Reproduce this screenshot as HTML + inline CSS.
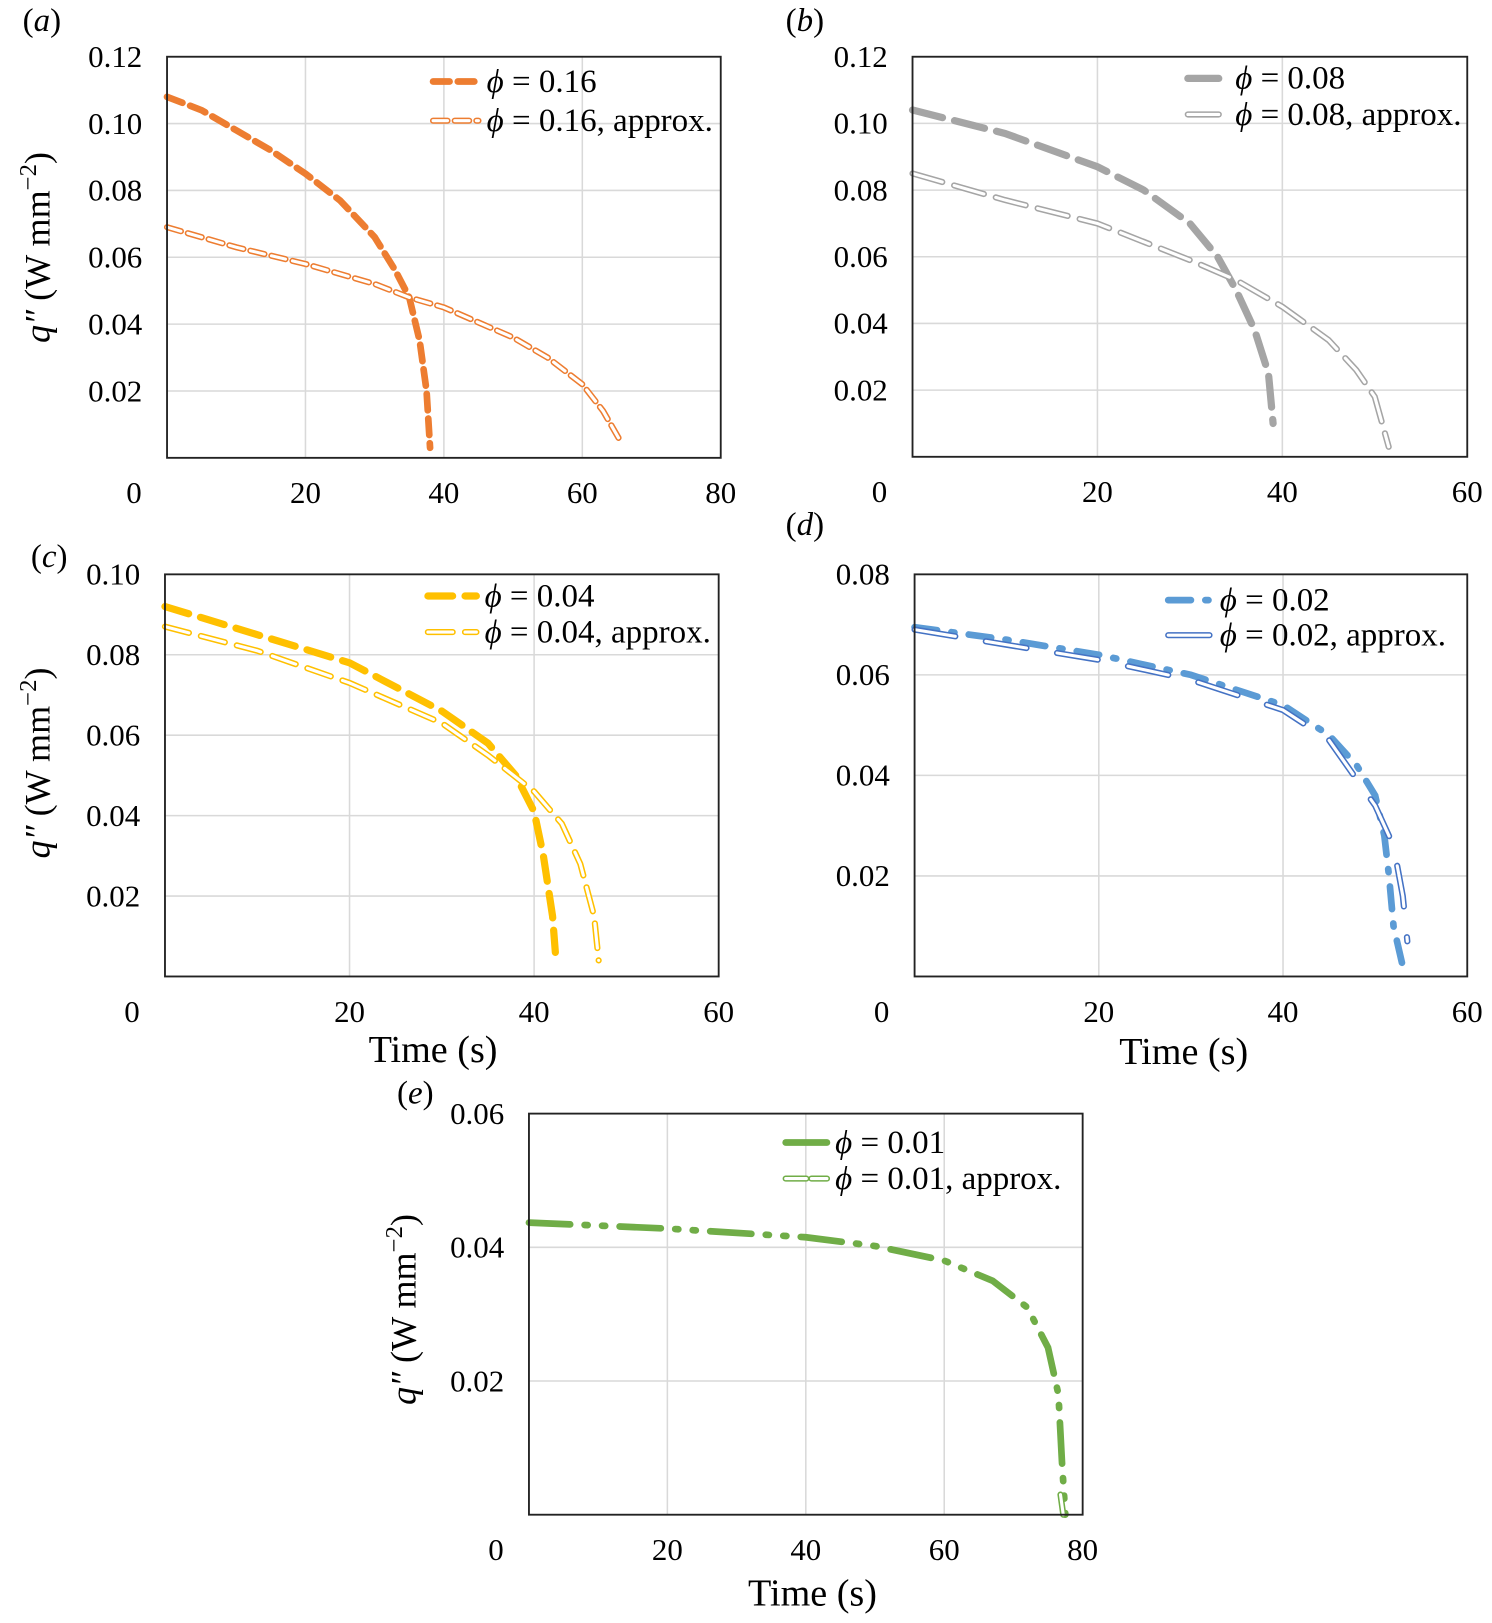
<!DOCTYPE html>
<html><head><meta charset="utf-8"><style>
html,body{margin:0;padding:0;background:#fff;}
svg{display:block;}
text{font-family:"Liberation Serif",serif;fill:#000;}
</style></head><body>
<svg id="fig" width="1492" height="1623" viewBox="0 0 1447 1574"></svg>
<script>
// ---- data ----
const aMainX=[0,5,10,15,20,25,30,33,35,36.5,37.5,38];
const aMainY=[0.108,0.104,0.098,0.092,0.085,0.077,0.066,0.056,0.048,0.035,0.02,0.003];
const aApxX=[0,10,20,30,35,40,50,55,60,63,65.5];
const aApxY=[0.069,0.063,0.058,0.052,0.048,0.045,0.036,0.030,0.022,0.014,0.005];
const bMainX=[0,10,20,25,30,33,35,37,38.5,39];
const bMainY=[0.104,0.097,0.087,0.080,0.070,0.060,0.050,0.038,0.025,0.010];
const bApxX=[0,10,20,30,35,40,45,48,50,51.5];
const bApxY=[0.085,0.077,0.070,0.059,0.053,0.045,0.035,0.026,0.018,0.003];
const cMainX=[0,10,20,30,35,38,40,41,42,42.3];
const cMainY=[0.092,0.085,0.078,0.066,0.058,0.050,0.041,0.030,0.015,0.006];
const cApxX=[0,10,20,30,35,40,43,45,46.5,47];
const cApxY=[0.087,0.081,0.073,0.063,0.055,0.046,0.038,0.028,0.015,0.004];
const dMainX=[0,10,20,30,40,45,48,50,51,51.5,52,53];
const dMainY=[0.0695,0.067,0.064,0.060,0.054,0.048,0.042,0.036,0.028,0.020,0.010,0.002];
const dApxX=[0,10,20,30,40,45,50,52,53,53.5];
const dApxY=[0.069,0.066,0.063,0.059,0.053,0.047,0.034,0.026,0.016,0.007];
const eMainX=[0,20,40,50,60,67,72,75,76.5,77,77.5];
const eMainY=[0.0437,0.0428,0.0415,0.0402,0.038,0.035,0.031,0.025,0.018,0.008,0.0];
const eApxX=[76.8,77.2];
const eApxY=[0.003,0.0];
const xTicksA=[0,20,40,60,80];const yTicksA=[0.02,0.04,0.06,0.08,0.10,0.12];
const xTicksB=[0,20,40,60];const yTicksB=[0.02,0.04,0.06,0.08,0.10,0.12];
const xTicksC=[0,20,40,60];const yTicksC=[0.02,0.04,0.06,0.08,0.10];
const xTicksD=[0,20,40,60];const yTicksD=[0.02,0.04,0.06,0.08];
const xTicksE=[0,20,40,60,80];const yTicksE=[0.02,0.04,0.06];

const NS="http://www.w3.org/2000/svg";
const svg=document.getElementById('fig');
function mk(tag,attrs,parent,txt){const e=document.createElementNS(NS,tag);for(const k in attrs)e.setAttribute(k,attrs[k]);if(txt!==undefined)e.textContent=txt;(parent||svg).appendChild(e);return e;}

function panel(id,box,xmax,ymax,xt,yt,series,leg,label,showYTitle,showXTitle){
  const g=mk('g',{});
  
  
  const X=v=>box.l+(box.r-box.l)*v/xmax;
  const Y=v=>box.b-(box.b-box.t)*v/ymax;
  xt.forEach(v=>{ if(v>0&&v<xmax){const l=mk('line',{x1:X(v),x2:X(v),y1:box.t,y2:box.b,stroke:'#d9d9d9','stroke-width':1.5},g);}});
  yt.forEach(v=>{ if(v<ymax){const l=mk('line',{x1:box.l,x2:box.r,y1:Y(v),y2:Y(v),stroke:'#d9d9d9','stroke-width':1.5},g);}});
  xt.forEach(v=>{const t=mk('text',{x:v===0?box.l-32:X(v),y:box.b+44,'font-size':30,'text-anchor':'middle'},g,String(v));});
  yt.forEach(v=>{const t=mk('text',{x:box.l-24,y:Y(v)+10,'font-size':30,'text-anchor':'end'},g,v.toFixed(2));});
  series.forEach(s=>{
    const d=s.x.map((v,i)=>(i?'L':'M')+X(v).toFixed(1)+','+Y(s.y[i]).toFixed(1)).join(' ');
    const p=mk('path',{d:d,fill:'none',stroke:s.color,'stroke-width':s.w,'stroke-dasharray':s.dash,'stroke-linecap':'round'},g);
    
    
    if(s.hollow){const p2=mk('path',{d:d,fill:'none',stroke:'#fff','stroke-width':s.w-3,'stroke-dasharray':s.dash,'stroke-linecap':'round'},g);
      
      }
  });
  const bx=mk('rect',{x:box.l,y:box.t,width:box.r-box.l,height:box.b-box.t,fill:'none',stroke:'#222','stroke-width':1.8},g);
  
  
  leg.forEach((L,i)=>{
    const s=series[i];
    const lg=mk('g',{},g);
    
    
    mk('line',{x1:L.x1,x2:L.x2,y1:L.y-10,y2:L.y-10,stroke:s.color,'stroke-width':s.w,'stroke-dasharray':s.dash,'stroke-linecap':'round'},lg);
    if(s.hollow)mk('line',{x1:L.x1,x2:L.x2,y1:L.y-10,y2:L.y-10,stroke:'#fff','stroke-width':s.w-3,'stroke-dasharray':s.dash,'stroke-linecap':'round'},lg);
    const t=mk('text',{x:L.x2+8,y:L.y,'font-size':32},lg);
    mk('tspan',{'font-style':'italic'},t,'ϕ');
    mk('tspan',{},t,' = '+L.t);
  });
  const lb=mk('text',{x:label.x,y:label.y,'font-size':32},g);
  
  
  mk('tspan',{},lb,'(');mk('tspan',{'font-style':'italic'},lb,id);mk('tspan',{},lb,')');
  if(showYTitle){
    const cy=showYTitle.y, cx=showYTitle.x;
    const t=mk('text',{x:cx,y:cy,'font-size':35,'text-anchor':'middle',transform:'rotate(-90 '+cx+' '+cy+')'},g);
    
    
    mk('tspan',{'font-style':'italic'},t,'q″');
    mk('tspan',{},t,' (W mm');
    mk('tspan',{dy:-13,'font-size':24},t,'−2');
    mk('tspan',{dy:13},t,')');
  }
  if(showXTitle){
    const t=mk('text',{x:showXTitle.x,y:showXTitle.y,'font-size':37,'text-anchor':'middle'},g,'Time (s)');
    
    
  }
}
const OR='#ed7d31',GR='#a5a5a5',YE='#ffc000',BL='#5b9bd5',BL2='#4472c4',GN='#70ad47';
panel('a',{l:162,r:699,t:55,b:444},80,0.12,xTicksA,yTicksA,
 [{x:aMainX,y:aMainY,color:OR,w:6.5,dash:'16 8',name:'series-phi-0.16'},
  {x:aApxX,y:aApxY,color:OR,w:6,dash:'14 7',hollow:true,name:'series-phi-0.16-approx'}],
 [{x1:420,x2:464,y:89,t:'0.16'},{x1:420,x2:464,y:127,t:'0.16, approx.'}],
 {x:22,y:30},{x:48,y:240},null);
panel('b',{l:885,r:1423,t:55,b:443},60,0.12,xTicksB,yTicksB,
 [{x:bMainX,y:bMainY,color:GR,w:7,dash:'30 12',name:'series-phi-0.08'},
  {x:bApxX,y:bApxY,color:GR,w:6,dash:'30 12',hollow:true,name:'series-phi-0.08-approx'}],
 [{x1:1152,x2:1190,y:86,t:'0.08'},{x1:1152,x2:1190,y:121,t:'0.08, approx.'}],
 {x:762,y:30},null,null);
panel('c',{l:160,r:697,t:557,b:947},60,0.10,xTicksC,yTicksC,
 [{x:cMainX,y:cMainY,color:YE,w:7,dash:'24 12',name:'series-phi-0.04'},
  {x:cApxX,y:cApxY,color:YE,w:6,dash:'24 12',hollow:true,name:'series-phi-0.04-approx'}],
 [{x1:415,x2:462,y:588,t:'0.04'},{x1:415,x2:462,y:623,t:'0.04, approx.'}],
 {x:30,y:550},{x:48,y:740},{x:420,y:1030});
panel('d',{l:887,r:1423,t:557,b:947},60,0.08,xTicksD,yTicksD,
 [{x:dMainX,y:dMainY,color:BL,w:6.5,dash:'22 14 3 14',name:'series-phi-0.02'},
  {x:dApxX,y:dApxY,color:BL2,w:6,dash:'40 30',hollow:true,name:'series-phi-0.02-approx'}],
 [{x1:1133,x2:1175,y:592,t:'0.02'},{x1:1133,x2:1175,y:626,t:'0.02, approx.'}],
 {x:762,y:519},null,{x:1148,y:1032});
panel('e',{l:513,r:1050,t:1080,b:1469},80,0.06,xTicksE,yTicksE,
 [{x:eMainX,y:eMainY,color:GN,w:6.5,dash:'40 14 3 14 3 14',name:'series-phi-0.01'},
  {x:eApxX,y:eApxY,color:GN,w:6,dash:'20 5',hollow:true,name:'series-phi-0.01-approx'}],
 [{x1:762,x2:802,y:1118,t:'0.01'},{x1:762,x2:802,y:1153,t:'0.01, approx.'}],
 {x:385,y:1070},{x:403,y:1270},{x:788,y:1557});
</script>
</body></html>
